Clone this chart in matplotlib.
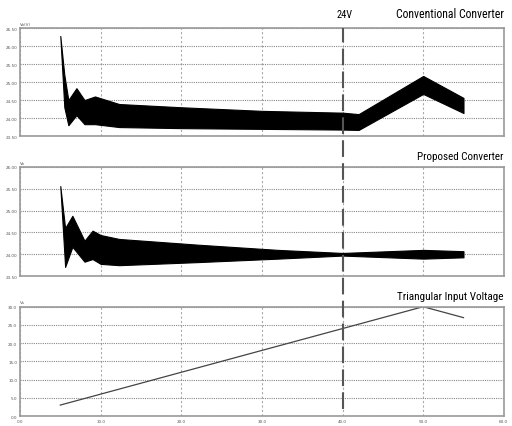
import numpy as np
import matplotlib
matplotlib.use('Agg')
import matplotlib.pyplot as plt
from matplotlib import font_manager as fm
from matplotlib.lines import Line2D
from matplotlib.transforms import blended_transform_factory

# time axis (ms) and envelopes
t_conv = [0.5, 0.55, 0.6, 0.7, 0.8, 0.93, 1.23, 2.0, 3.0, 4.0, 4.2, 5.0, 5.5]
conv_hi = [26.28, 25.2, 24.5, 24.83, 24.5, 24.6, 24.39, 24.3, 24.2, 24.15, 24.11, 25.17, 24.56]
conv_lo = [26.28, 24.3, 23.8, 24.08, 23.83, 23.83, 23.75, 23.72, 23.7, 23.68, 23.67, 24.67, 24.14]

t_prop = [0.5, 0.56, 0.65, 0.8, 0.9, 1.0, 1.23, 2.2, 3.2, 4.0, 5.0, 5.5]
prop_hi = [25.56, 24.6, 24.88, 24.31, 24.54, 24.44, 24.35, 24.22, 24.1, 24.03, 24.1, 24.07]
prop_lo = [25.56, 23.71, 24.17, 23.83, 23.89, 23.78, 23.75, 23.82, 23.9, 23.97, 23.9, 23.93]

t_in = [0.5, 5.0, 5.5]
v_in = [3.0, 30.0, 27.0]

x_ticks = [0, 1, 2, 3, 4, 5, 6]
x_labels = ['0.0', '10.0', '20.0', '30.0', '40.0', '50.0', '60.0']
y1_ticks = [23.5, 24.0, 24.5, 25.0, 25.5, 26.0, 26.5]
y2_ticks = [23.5, 24.0, 24.5, 25.0, 25.5, 26.0]
y3_ticks = [0, 5, 10, 15, 20, 25, 30]

# pick a narrow font if one is installed
avail = {(f.name, f.stretch) for f in fm.fontManager.ttflist}
names = {f.name for f in fm.fontManager.ttflist}
font_kw = {'family': 'DejaVu Sans'}
if 'Liberation Sans Narrow' in names:
    font_kw = {'family': 'Liberation Sans Narrow'}
elif 'Roboto Condensed' in names:
    font_kw = {'family': 'Roboto Condensed'}
elif ('DejaVu Sans', 'condensed') in avail or ('DejaVu Sans', 'semi-condensed') in avail:
    font_kw = {'family': 'DejaVu Sans', 'stretch': 'condensed'}

fig = plt.figure(figsize=(5.12, 4.27), dpi=100)
ax1 = fig.add_axes([0.039, 0.679, 0.945, 0.253])
ax2 = fig.add_axes([0.039, 0.351, 0.945, 0.256])
ax3 = fig.add_axes([0.039, 0.0234, 0.945, 0.256])

def style(ax, yt, fmt, ylab, bottom=False):
    ax.set_xlim(0, 6)
    ax.set_ylim(yt[0], yt[-1])
    ax.set_yticks(yt)
    ax.set_yticklabels([fmt % v for v in yt], fontsize=3, color='#555555')
    ax.set_xticks(x_ticks)
    if bottom:
        ax.set_xticklabels(x_labels, fontsize=3, color='#555555')
    else:
        ax.set_xticklabels([])
    ax.tick_params(length=0, pad=2)
    for s in ax.spines.values():
        s.set_color('#999999')
        s.set_linewidth(1.2)
    ax.yaxis.grid(True, linestyle=(0, (1, 1)), color='#888888', linewidth=0.8)
    ax.xaxis.grid(True, linestyle=(0, (2, 2)), color='#aaaaaa', linewidth=0.8)
    ax.set_axisbelow(True)
    ax.text(0.0, 1.03, ylab, transform=ax.transAxes, fontsize=3, color='#555555')

style(ax1, y1_ticks, '%.2f', 'Vo(V)')
style(ax2, y2_ticks, '%.2f', 'Vo')
style(ax3, y3_ticks, '%.1f', 'Vs', bottom=True)

ax1.fill_between(t_conv, conv_lo, conv_hi, color='black', linewidth=0.8, edgecolor='black')
ax2.fill_between(t_prop, prop_lo, prop_hi, color='black', linewidth=0.8, edgecolor='black')
ax3.plot(t_in, v_in, color='#444444', linewidth=0.9)

# 24V marker
tr = blended_transform_factory(ax3.transData, fig.transFigure)
fig.add_artist(Line2D([4, 4], [0.04, 0.932], transform=tr, color='#555555',
                      linewidth=1.5, linestyle=(0, (8, 3))))

titles = [
    fig.text(0.984, 0.965, 'Conventional Converter', ha='right', va='center', fontsize=10, **font_kw),
    fig.text(4.02, 0.965, '24V', transform=tr, ha='center', va='center', fontsize=10, **font_kw),
    fig.text(0.984, 0.632, 'Proposed Converter', ha='right', va='center', fontsize=10, **font_kw),
    fig.text(0.984, 0.304, 'Triangular Input Voltage', ha='right', va='center', fontsize=10, **font_kw),
]
# target widths in pixels, as measured on the reference
widths = [108, 16, 86, 107]
fig.canvas.draw()
rend = fig.canvas.get_renderer()
for txt, w in zip(titles, widths):
    cur = txt.get_window_extent(rend).width
    txt.set_fontsize(txt.get_fontsize() * w / cur)

fig.savefig('out.png', dpi=100)
